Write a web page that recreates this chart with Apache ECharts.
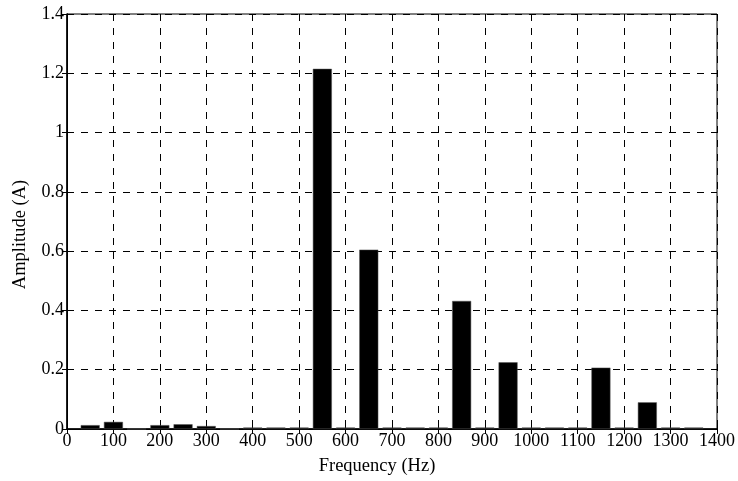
<!DOCTYPE html>
<html>
<head>
<meta charset="utf-8">
<script src="https://cdn.jsdelivr.net/npm/echarts@6/dist/echarts.min.js"></script>
<style>
  html, body { margin: 0; padding: 0; background: #fff; }
  #chart { width: 738px; height: 481px; }
</style>
</head>
<body>
<div id="chart"></div>
<script>
// harmonic frequencies (Hz) and amplitudes (A)
const freqs = [50, 100, 150, 200, 250, 300, 350, 400, 450, 500, 550, 600, 650, 700,
  750, 800, 850, 900, 950, 1000, 1050, 1100, 1150, 1200, 1250, 1300, 1350];
const amps = [0.013, 0.024, 0, 0.013, 0.016, 0.010, 0, 0.005, 0.005, 0.005, 1.215, 0.005, 0.605, 0.005,
  0.005, 0.005, 0.432, 0.005, 0.225, 0.005, 0.005, 0.005, 0.207, 0.005, 0.090, 0.005, 0.005];

const font = "Liberation Serif";
const chart = echarts.init(document.getElementById("chart"));

const gridLine = { show: true, lineStyle: { color: "#000", type: [7, 7], width: 1 } };

chart.setOption({
  animation: false,
  grid: { left: 67, right: 18, top: 14, bottom: 50, show: true, borderColor: "#000", borderWidth: 1 },
  xAxis: [
    {
      type: "value", min: 0, max: 1400, interval: 100,
      name: "Frequency (Hz)", nameLocation: "middle", nameGap: 28,
      nameTextStyle: { fontFamily: font, fontSize: 18.5, color: "#000", padding: [0, 30, 0, 0] },
      axisLine: { show: true, lineStyle: { color: "#000", width: 1.5 } },
      axisTick: { show: true, inside: true, length: 5, lineStyle: { color: "#000" } },
      axisLabel: { fontFamily: font, fontSize: 18, color: "#000", margin: 3, formatter: v => String(v) },
      splitLine: gridLine
    },
    {
      type: "value", min: 0, max: 1400, interval: 100, position: "top",
      axisLine: { show: true, lineStyle: { color: "#000" } },
      axisTick: { show: true, inside: true, length: 5, lineStyle: { color: "#000" } },
      axisLabel: { show: false }, splitLine: { show: false }
    }
  ],
  yAxis: [
    {
      type: "value", min: 0, max: 1.4, interval: 0.2,
      name: "Amplitude (A)", nameLocation: "middle", nameGap: 37,
      nameTextStyle: { fontFamily: font, fontSize: 18.5, color: "#000", padding: [0, 26, 0, 0] },
      axisLine: { show: true, lineStyle: { color: "#000", width: 1.5 } },
      axisTick: { show: true, inside: true, length: 5, lineStyle: { color: "#000" } },
      axisLabel: { fontFamily: font, fontSize: 18, color: "#000", margin: 3 },
      splitLine: gridLine
    },
    {
      type: "value", min: 0, max: 1.4, interval: 0.2, position: "right",
      axisLine: { show: true, lineStyle: { color: "#000" } },
      axisTick: { show: true, inside: true, length: 5, lineStyle: { color: "#000" } },
      axisLabel: { show: false }, splitLine: { show: false }
    }
  ],
  series: [{
    type: "bar",
    barWidth: 19,
    data: freqs.map((f, i) => [f, amps[i]]),
    itemStyle: { color: "#000", borderColor: "#555", borderWidth: 0.5 },
    z: 5
  }]
});
</script>
</body>
</html>
